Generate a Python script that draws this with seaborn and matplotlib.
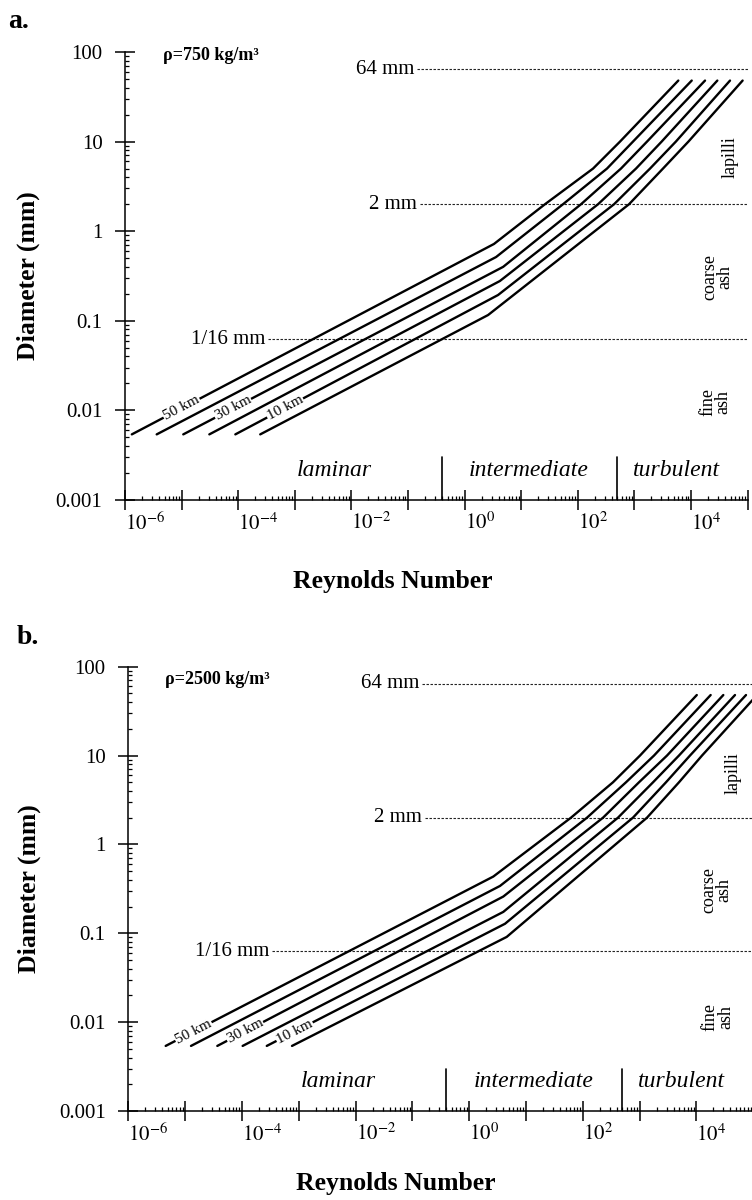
import numpy as np
import pandas as pd
import matplotlib
matplotlib.use("Agg")
import matplotlib.pyplot as plt
from matplotlib.ticker import FixedLocator, FuncFormatter, LogLocator, NullFormatter
import seaborn as sns

# ---------------------------------------------------------------- data
altitude_km = [50, 40, 30, 20, 10, 0]
labelled_km = [50, 30, 10]
diam_start_mm = 0.0054
diam_end_mm = 48.0

# (a) clast density 750 kg/m3 : Reynolds number at the curve nodes
a_re_start = [1.32e-6, 3.63e-6, 1.07e-5, 3.09e-5, 8.9e-5, 2.45e-4]
a_re_bend = [3.3, 3.6, 4.8, 4.2, 3.9, 2.6]
a_d_bend = [0.72, 0.515, 0.40, 0.278, 0.194, 0.116]
a_re_2mm = [26.3, 54.8, 114, 228, 437, 804]
a_re_5mm = [186, 328, 579, 1067, 1888, 3199]
a_re_10mm = [557, 944, 1670, 3030, 5400, 9000]
a_re_end = [5970, 10300, 17700, 29200, 48900, 81700]

# (b) clast density 2500 kg/m3
b_re_start = [4.55e-6, 1.27e-5, 3.69e-5, 1.03e-4, 2.74e-4, 7.62e-4]
b_re_bend = [2.67, 3.50, 4.00, 4.00, 4.29, 4.59]
b_d_bend = [0.435, 0.341, 0.259, 0.174, 0.128, 0.091]
b_re_2mm = [62.2, 119, 228, 418, 767, 1355]
b_re_5mm = [341, 578, 979, 1730, 2924, 4955]
b_re_10mm = [1020, 1800, 3050, 4950, 7740, 12600]
b_re_end = [10200, 17900, 29900, 48000, 75000, 117500]

size_class_names = ["64 mm", "2 mm", "1/16 mm"]
size_class_mm = [64.0, 2.0, 1 / 16]
regime_bounds = [0.4, 500]
regime_names = ["laminar", "intermediate", "turbulent"]
clast_names = ["lapilli", "coarse\nash", "fine\nash"]
x_tick_exp = list(range(-6, 6))
y_tick_vals = [0.001, 0.01, 0.1, 1, 10, 100]
y_tick_labels = ["0.001", "0.01", "0.1", "1", "10", "100"]
densities = ["\u03c1=750 kg/m\u00b3", "\u03c1=2500 kg/m\u00b3"]
panel_tags = ["a.", "b."]


def build_curves(re_start, re_bend, d_bend, re_2, re_5, re_10, re_end):
    rows = []
    for i, alt in enumerate(altitude_km):
        res = [re_start[i], re_bend[i], re_2[i], re_5[i], re_10[i], re_end[i]]
        ds = [diam_start_mm, d_bend[i], 2.0, 5.0, 10.0, diam_end_mm]
        for k, (r, d) in enumerate(zip(res, ds)):
            rows.append({"altitude": alt, "node": k, "Re": r, "D": d})
    return pd.DataFrame(rows)


panels = [
    build_curves(a_re_start, a_re_bend, a_d_bend, a_re_2mm, a_re_5mm,
                 a_re_10mm, a_re_end),
    build_curves(b_re_start, b_re_bend, b_d_bend, b_re_2mm, b_re_5mm,
                 b_re_10mm, b_re_end),
]

# ---------------------------------------------------------------- style
sns.set_theme(style="ticks")
plt.rcParams["font.family"] = ["Liberation Serif", "DejaVu Serif"]
plt.rcParams["mathtext.fontset"] = "stix"
plt.rcParams["axes.unicode_minus"] = False
plt.rcParams["axes.linewidth"] = 1.1
for key in ["text.color", "axes.labelcolor", "xtick.color", "ytick.color",
            "axes.edgecolor"]:
    plt.rcParams[key] = "black"

W, H = 752, 1200
fig = plt.figure(figsize=(W / 100, H / 100), dpi=100)


def fx(px):
    return px / W


def fy(py):
    return 1 - py / H


# per-panel layout (pixels)
layouts = [
    dict(left=125, bottom=500, top=52, dec=56.6, label_off=0.88,
         size_x0=[0.145, 0.16, 3.4e-4], ylab_x=-0.137, xlab=(0.430, -0.157),
         tag=(8, 21), dens=(163, 56),
         regime_y=0.00215, clast_pos=[(4.9e4, 6.7), (2.9e4, 0.31), (2.7e4, 0.0124)]),
    dict(left=128.3, bottom=1111, top=666.7, dec=56.8, label_off=0.49,
         size_x0=[0.148, 0.165, 3.4e-4], ylab_x=-0.139, xlab=(0.428, -0.137),
         tag=(17, 637), dens=(165, 680),
         regime_y=0.00213, clast_pos=[(4.4e4, 6.4), (2.3e4, 0.31), (2.4e4, 0.0115)]),
]

for p, (df, lay) in enumerate(zip(panels, layouts)):
    width = 11 * lay["dec"]
    ax = fig.add_axes([fx(lay["left"]), fy(lay["bottom"]),
                       width / W, (lay["bottom"] - lay["top"]) / H])
    ax.set_xscale("log")
    ax.set_yscale("log")
    ax.set_xlim(1e-6, 1e5)
    ax.set_ylim(1e-3, 100)

    sns.lineplot(data=df, x="Re", y="D", hue="altitude",
                 palette={a: "black" for a in altitude_km},
                 estimator=None, sort=False, legend=False,
                 linewidth=1.7, ax=ax, zorder=3)

    # grain-size class boundaries
    for name, d, x0 in zip(size_class_names, size_class_mm, lay["size_x0"]):
        ax.plot([x0, 1e5], [d, d], color="#222222", lw=0.8,
                dashes=(2.2, 1.4), zorder=2, clip_on=False)
        ax.text(x0 / 1.12, d, name, ha="right", va="center", fontsize=15)

    # flow-regime boundaries on the Reynolds axis
    for xb in regime_bounds:
        ax.plot([xb, xb], [1e-3, 3e-3], color="black", lw=1.2, zorder=3)
    regime_x = [10 ** -2.31, 10 ** 1.14, 10 ** 3.74]
    for name, xr in zip(regime_names, regime_x):
        ax.text(xr, lay["regime_y"], name, ha="center", va="center",
                fontsize=17, style="italic")

    # clast size classes
    for name, (xc, yc) in zip(clast_names, lay["clast_pos"]):
        ax.text(xc, yc, name, rotation=90, ha="center", va="center",
                fontsize=13, linespacing=0.85)

    # altitude labels along the laminar branch
    for alt in labelled_km:
        sub = df[df["altitude"] == alt].sort_values("node")
        r0, r1 = np.log10(sub["Re"].values[:2])
        d0, d1 = np.log10(sub["D"].values[:2])
        lr = r0 + lay["label_off"]
        ld = d0 + (lr - r0) * (d1 - d0) / (r1 - r0)
        p0 = ax.transData.transform((10 ** r0, 10 ** d0))
        p1 = ax.transData.transform((10 ** r1, 10 ** d1))
        ang = np.degrees(np.arctan2(p1[1] - p0[1], p1[0] - p0[0]))
        ax.text(10 ** lr, 10 ** ld, f"{alt} km", rotation=ang,
                rotation_mode="anchor", ha="center", va="center",
                fontsize=11, zorder=4,
                bbox=dict(boxstyle="square,pad=0.06", fc="white", ec="none"))

    # axes, ticks
    sns.despine(ax=ax)
    ax.xaxis.set_major_locator(FixedLocator([10.0 ** e for e in x_tick_exp]))
    ax.xaxis.set_minor_locator(LogLocator(base=10, subs=np.arange(2, 10), numticks=30))
    ax.xaxis.set_minor_formatter(NullFormatter())

    def xfmt(v, pos):
        e = int(round(np.log10(v)))
        return f"$10^{{{e}}}$" if (e % 2 == 0 and e <= 4) else ""

    ax.xaxis.set_major_formatter(FuncFormatter(xfmt))
    ax.yaxis.set_major_locator(FixedLocator(y_tick_vals))
    ax.set_yticklabels(y_tick_labels)
    ax.yaxis.set_minor_locator(LogLocator(base=10, subs=np.arange(2, 10), numticks=30))
    ax.yaxis.set_minor_formatter(NullFormatter())

    ax.tick_params(which="major", direction="inout", length=14.5, width=1.1,
                   color="black", labelsize=15, labelcolor="black")
    ax.tick_params(which="minor", direction="in", length=3.2, width=0.9,
                   color="black")
    ax.tick_params(axis="x", which="major", pad=2)
    ax.tick_params(axis="y", which="major", pad=9)
    for lbl in ax.get_xticklabels():
        lbl.set_horizontalalignment("left")

    ax.set_ylabel("Diameter (mm)", fontsize=18.5, fontweight="bold")
    ax.yaxis.set_label_coords(lay["ylab_x"], 0.5)
    ax.set_xlabel("Reynolds Number", fontsize=18.5, fontweight="bold")
    ax.xaxis.set_label_coords(*lay["xlab"])
    ax.grid(False)

    fig.text(fx(lay["tag"][0]), fy(lay["tag"][1]), panel_tags[p],
             fontsize=20, fontweight="bold", ha="left", va="center")
    fig.text(fx(lay["dens"][0]), fy(lay["dens"][1]), densities[p],
             fontsize=13, fontweight="bold", ha="left", va="center")

fig.savefig("out.png", dpi=100, facecolor="white")
